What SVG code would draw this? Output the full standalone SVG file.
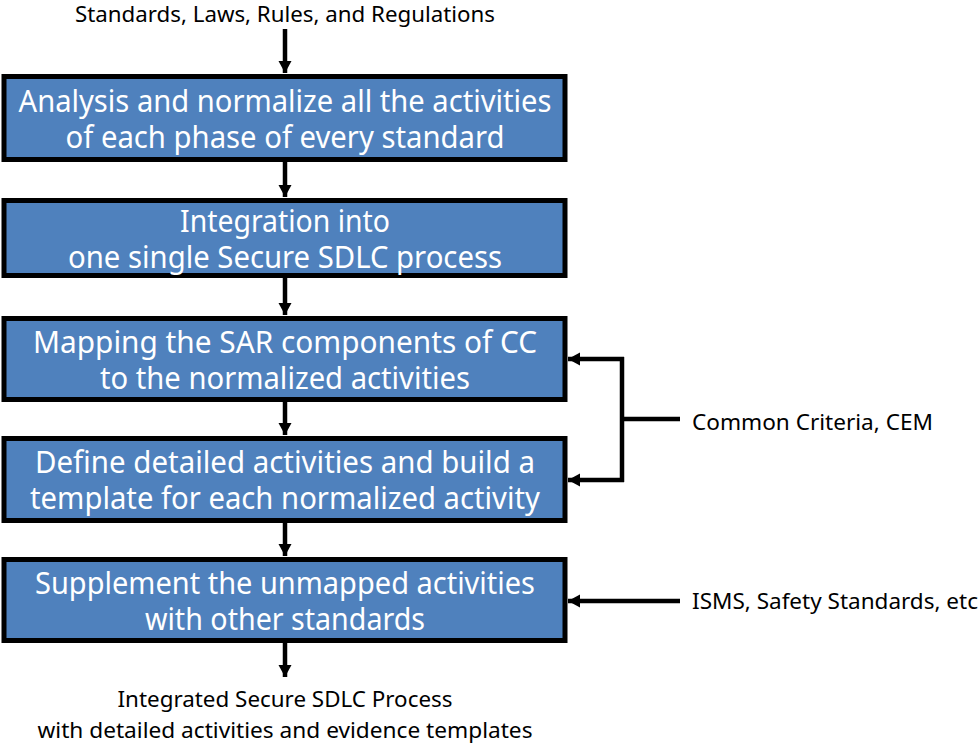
<svg xmlns="http://www.w3.org/2000/svg" width="980" height="746" viewBox="0 0 980 746">
<style>
.box{fill:#4F81BD;stroke:#000;stroke-width:5}
.bt{font-family:"Noto Sans","Open Sans",sans-serif;font-size:30px;fill:#fff;text-anchor:middle}
.lt{font-family:"Noto Sans","Open Sans",sans-serif;font-size:21px;fill:#000}
.c{fill:none;stroke:#000;stroke-width:4.5}
</style>
<defs>
<marker id="ah" markerUnits="userSpaceOnUse" markerWidth="14" markerHeight="14" refX="12" refY="7" orient="auto" viewBox="0 0 14 14">
<path d="M0,0.5 L12,7 L0,13.5 z" fill="#000"/>
</marker>
</defs>
<rect width="980" height="746" fill="#fff"/>
<g id="connectors">
<line class="c" x1="285" y1="29" x2="285" y2="73" marker-end="url(#ah)"/>
<line class="c" x1="285" y1="162" x2="285" y2="197" marker-end="url(#ah)"/>
<line class="c" x1="285" y1="278" x2="285" y2="315" marker-end="url(#ah)"/>
<line class="c" x1="285" y1="402" x2="285" y2="435" marker-end="url(#ah)"/>
<line class="c" x1="285" y1="523" x2="285" y2="556" marker-end="url(#ah)"/>
<line class="c" x1="285" y1="643" x2="285" y2="677" marker-end="url(#ah)"/>
<path class="c" d="M680,419 H622"/>
<path class="c" d="M622,357 V482"/>
<line class="c" x1="624" y1="359" x2="568" y2="359" marker-end="url(#ah)"/>
<line class="c" x1="624" y1="480" x2="568" y2="480" marker-end="url(#ah)"/>
<line class="c" x1="680" y1="601" x2="568" y2="601" marker-end="url(#ah)"/>
</g>
<g id="input">
<text class="lt" x="285" y="22" text-anchor="middle" font-size="20" textLength="420" lengthAdjust="spacingAndGlyphs">Standards, Laws, Rules, and Regulations</text>
</g>
<g id="n1">
<rect class="box" x="4" y="76.5" width="561" height="83"/>
<text class="bt" x="285" y="112" textLength="533" lengthAdjust="spacingAndGlyphs">Analysis and normalize all the activities</text>
<text class="bt" x="285" y="148" textLength="439" lengthAdjust="spacingAndGlyphs">of each phase of every standard</text>
</g>
<g id="n2">
<rect class="box" x="4" y="200.5" width="561" height="75"/>
<text class="bt" x="285" y="232" textLength="210" lengthAdjust="spacingAndGlyphs">Integration into</text>
<text class="bt" x="285" y="268" textLength="434" lengthAdjust="spacingAndGlyphs">one single Secure SDLC process</text>
</g>
<g id="n3">
<rect class="box" x="4" y="318.5" width="561" height="81"/>
<text class="bt" x="285" y="353" textLength="504" lengthAdjust="spacingAndGlyphs">Mapping the SAR components of CC</text>
<text class="bt" x="285" y="389" textLength="370" lengthAdjust="spacingAndGlyphs">to the normalized activities</text>
</g>
<g id="n4">
<rect class="box" x="4" y="438.5" width="561" height="82"/>
<text class="bt" x="285" y="473" textLength="500" lengthAdjust="spacingAndGlyphs">Define detailed activities and build a</text>
<text class="bt" x="285" y="509" textLength="510" lengthAdjust="spacingAndGlyphs">template for each normalized activity</text>
</g>
<g id="n5">
<rect class="box" x="4" y="559.5" width="561" height="81"/>
<text class="bt" x="285" y="594" textLength="500" lengthAdjust="spacingAndGlyphs">Supplement the unmapped activities</text>
<text class="bt" x="285" y="630" textLength="280" lengthAdjust="spacingAndGlyphs">with other standards</text>
</g>
<g id="cc">
<text class="lt" x="692" y="430" textLength="241" lengthAdjust="spacingAndGlyphs">Common Criteria, CEM</text>
</g>
<g id="isms">
<text class="lt" x="692" y="609" textLength="286" lengthAdjust="spacingAndGlyphs">ISMS, Safety Standards, etc</text>
</g>
<g id="output">
<text class="lt" x="285" y="707" text-anchor="middle" textLength="335" lengthAdjust="spacingAndGlyphs">Integrated Secure SDLC Process</text>
<text class="lt" x="285" y="738" text-anchor="middle" textLength="495" lengthAdjust="spacingAndGlyphs">with detailed activities and evidence templates</text>
</g>
</svg>
